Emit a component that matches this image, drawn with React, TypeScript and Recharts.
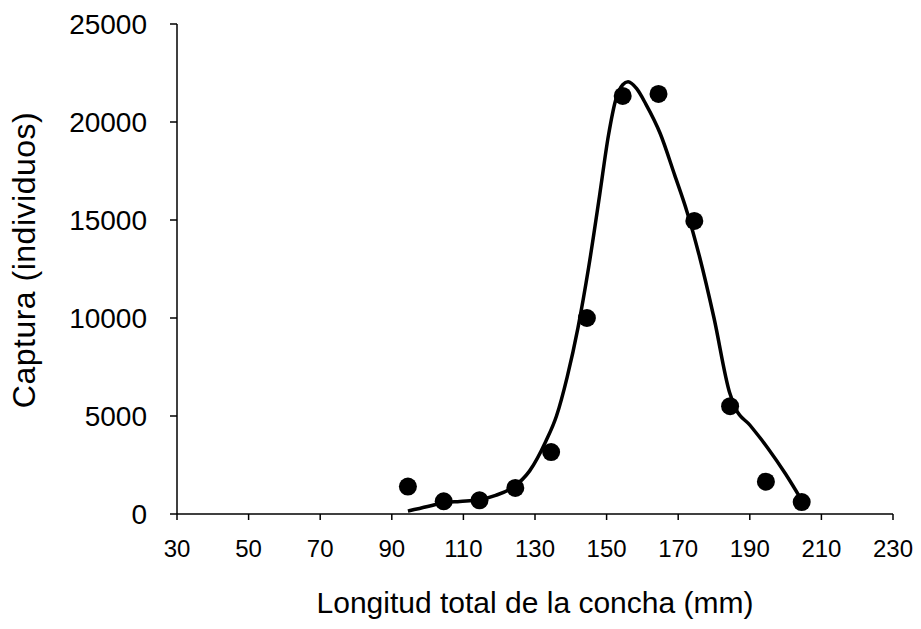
import { ComposedChart, Line, Scatter, XAxis, YAxis } from 'recharts';

// observed catch by shell length class (class midpoints)
const lengths = [94.5, 104.5, 114.5, 124.5, 134.5, 144.5, 154.5, 164.5, 174.5, 184.5, 194.5, 204.5];
const catches = [1400, 650, 700, 1330, 3160, 10000, 21330, 21430, 14950, 5500, 1650, 610];

// fitted curve
const fitLengths = [94.5, 100, 104, 109, 114, 119, 124, 128.5, 133, 136, 139, 142, 145, 148, 150.5, 152.5, 154.5, 156, 158.4, 161, 165, 169, 172.5, 176, 180, 184.4, 186, 190, 195, 200, 204.5];
const fitValues = [150, 380, 560, 640, 710, 950, 1380, 2200, 3700, 5000, 7000, 9500, 12600, 16200, 19300, 21100, 21900, 22050, 21700, 20900, 19400, 17300, 15400, 13100, 10000, 6170, 5400, 4540, 3370, 2040, 700];

const xTicks = [30, 50, 70, 90, 110, 130, 150, 170, 190, 210, 230];
const yTicks = [0, 5000, 10000, 15000, 20000, 25000];

const points = lengths.map((x, i) => ({ x, y: catches[i] }));
const fit = fitLengths.map((x, i) => ({ x, y: fitValues[i] }));

const font = 'Arial, "Liberation Sans", sans-serif';

function Dot(props: any) {
  return <circle cx={props.cx} cy={props.cy} r={9} fill="#000" />;
}

export default function App() {
  return (
    <div style={{ margin: -8, background: '#fff', width: 921, height: 629 }}>
      <ComposedChart width={921} height={629} margin={{ top: 24, right: 28, bottom: 0, left: 0 }}>
        <XAxis
          type="number"
          dataKey="x"
          domain={[30, 230]}
          ticks={xTicks}
          interval={0}
          height={115}
          stroke="#000"
          strokeWidth={1.5}
          tickSize={6}
          tickMargin={20}
          tick={{ fill: '#000', fontSize: 24, fontFamily: font }}
          label={{ value: 'Longitud total de la concha (mm)', position: 'insideBottom', offset: 16, fill: '#000', fontSize: 30, fontFamily: font }}
        />
        <YAxis
          type="number"
          dataKey="y"
          domain={[0, 25000]}
          ticks={yTicks}
          interval={0}
          width={177}
          stroke="#000"
          strokeWidth={1.5}
          tickSize={7}
          tickMargin={23}
          tick={{ fill: '#000', fontSize: 28, fontFamily: font }}
          label={{ value: 'Captura (individuos)', angle: -90, position: 'insideLeft', offset: 24, dy: -9, fill: '#000', fontSize: 32, fontFamily: font, letterSpacing: 0.5, style: { textAnchor: 'middle' } }}
        />
        <Line
          data={fit}
          dataKey="y"
          type="monotone"
          stroke="#000"
          strokeWidth={3.5}
          dot={false}
          activeDot={false}
          isAnimationActive={false}
        />
        <Scatter data={points} dataKey="y" fill="#000" shape={Dot} isAnimationActive={false} />
      </ComposedChart>
    </div>
  );
}
